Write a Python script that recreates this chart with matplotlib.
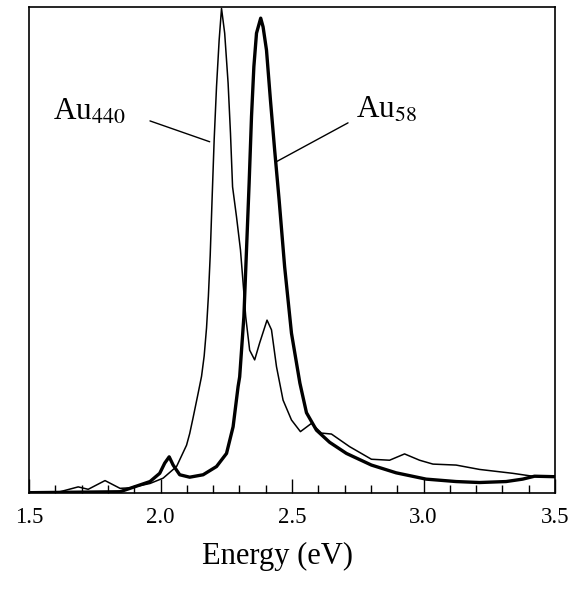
import matplotlib
matplotlib.use('Agg')
import matplotlib.pyplot as plt
from matplotlib.ticker import MultipleLocator

plt.rcParams['font.family'] = ['Liberation Serif', 'DejaVu Serif']
plt.rcParams['mathtext.fontset'] = 'stix'

# === Data (energy in eV, absorbance normalised to Au440 peak) ===
energy_au440 = [1.500, 1.618, 1.687, 1.725, 1.789, 1.846, 1.884, 1.960, 2.010, 2.061,
                2.099, 2.111, 2.124, 2.143, 2.156, 2.166, 2.175, 2.182, 2.189, 2.196,
                2.204, 2.213, 2.223, 2.232, 2.244, 2.257, 2.266, 2.274, 2.289, 2.304,
                2.314, 2.324, 2.339, 2.358, 2.377, 2.405, 2.422, 2.441, 2.466, 2.498,
                2.532, 2.574, 2.612, 2.650, 2.719, 2.802, 2.871, 2.928, 2.985, 3.036,
                3.124, 3.213, 3.339, 3.415, 3.500]
abs_au440 = [0.000, 0.002, 0.012, 0.007, 0.025, 0.009, 0.010, 0.019, 0.030, 0.054,
             0.098, 0.122, 0.155, 0.205, 0.240, 0.282, 0.340, 0.405, 0.490, 0.604,
             0.728, 0.838, 0.934, 0.999, 0.948, 0.845, 0.742, 0.631, 0.569, 0.501,
             0.433, 0.363, 0.294, 0.274, 0.309, 0.356, 0.336, 0.260, 0.191, 0.150,
             0.126, 0.143, 0.123, 0.121, 0.095, 0.069, 0.067, 0.080, 0.067, 0.059,
             0.057, 0.048, 0.040, 0.034, 0.033]

energy_au58 = [1.500, 1.846, 1.884, 1.960, 1.997, 2.016, 2.033, 2.048, 2.073, 2.111,
               2.162, 2.213, 2.251, 2.276, 2.295, 2.301, 2.317, 2.327, 2.337, 2.346,
               2.355, 2.365, 2.381, 2.390, 2.403, 2.418, 2.434, 2.451, 2.472, 2.498,
               2.530, 2.555, 2.593, 2.643, 2.707, 2.802, 2.896, 3.010, 3.124, 3.213,
               3.314, 3.377, 3.422, 3.500]
abs_au58 = [0.000, 0.002, 0.009, 0.023, 0.040, 0.061, 0.074, 0.057, 0.037, 0.032,
            0.037, 0.054, 0.081, 0.136, 0.219, 0.239, 0.363, 0.501, 0.639, 0.776,
            0.879, 0.948, 0.979, 0.961, 0.913, 0.810, 0.707, 0.604, 0.466, 0.329,
            0.226, 0.165, 0.129, 0.104, 0.081, 0.057, 0.041, 0.028, 0.023, 0.021,
            0.023, 0.028, 0.034, 0.033]

# === Plot ===
fig = plt.figure(figsize=(5.78, 5.89), dpi=100)
ax = fig.add_axes([0.0502, 0.1635, 0.9100, 0.8246])

ax.plot(energy_au440, abs_au440, color='black', lw=1.1, solid_joinstyle='round')
ax.plot(energy_au58, abs_au58, color='black', lw=2.4, solid_joinstyle='round')

ax.set_xlim(1.5, 3.5)
ax.set_ylim(0, 1.002)

# labels with leader lines
ax.annotate('', xy=(2.187, 0.724), xytext=(1.960, 0.767),
            arrowprops=dict(arrowstyle='-', lw=1.0, color='black', shrinkA=0, shrinkB=0))
ax.annotate('', xy=(2.441, 0.683), xytext=(2.713, 0.763),
            arrowprops=dict(arrowstyle='-', lw=1.0, color='black', shrinkA=0, shrinkB=0))
ax.text(1.591, 0.769, r'Au$_{440}$', fontsize=22.5, ha='left', va='baseline')
ax.text(2.745, 0.773, r'Au$_{58}$', fontsize=22.5, ha='left', va='baseline')

# axes style
ax.xaxis.set_major_locator(MultipleLocator(0.5))
ax.xaxis.set_minor_locator(MultipleLocator(0.1))
ax.set_xticks([1.5, 2.0, 2.5, 3.0, 3.5])
ax.set_xticklabels(['1.5', '2.0', '2.5', '3.0', '3.5'])
ax.tick_params(axis='x', which='major', direction='in', length=10, width=1.0,
               labelsize=16.5, pad=10)
ax.tick_params(axis='x', which='minor', direction='in', length=5.5, width=1.0)
ax.set_yticks([])
for s in ax.spines.values():
    s.set_linewidth(1.2)

ax.set_xlabel('Energy (eV)', fontsize=22, labelpad=10)
ax.xaxis.label.set_x(0.472)

fig.savefig('out.png', dpi=100)
